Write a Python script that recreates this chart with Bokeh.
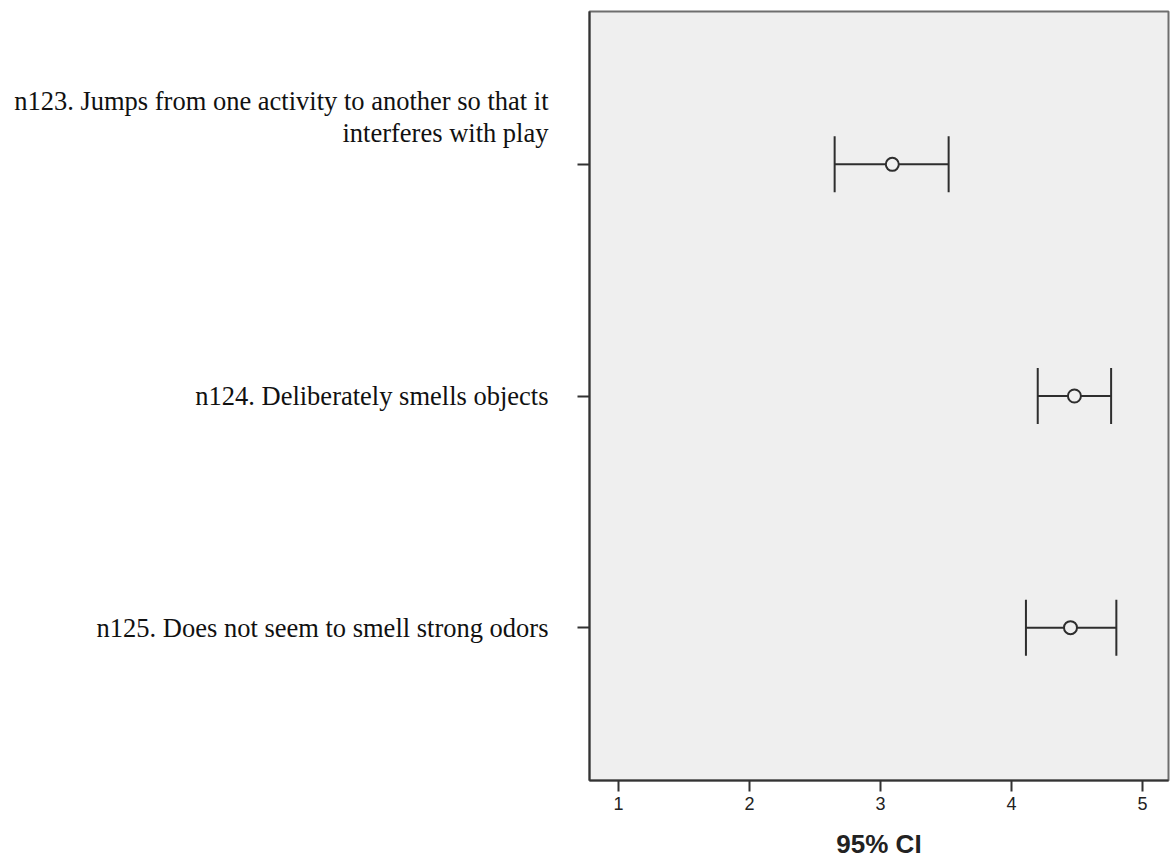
from bokeh.plotting import figure
from bokeh.models import ColumnDataSource, FactorRange, Range1d, Whisker, TeeHead, FixedTicker
from bokeh.embed import file_html
from bokeh.resources import INLINE

# ---- data ----
categories = [
    "n123. Jumps from one activity to another so that it\ninterferes with play\n\n\n",
    "n124. Deliberately smells objects",
    "n125. Does not seem to smell strong odors",
]
means = [3.09, 4.48, 4.45]
lower = [2.65, 4.20, 4.11]
upper = [3.52, 4.76, 4.80]
x_ticks = [1, 2, 3, 4, 5]
x_title = "95% CI"

src = ColumnDataSource(dict(cat=categories, mean=means, lower=lower, upper=upper))

p = figure(
    width=1172, height=861,
    y_range=FactorRange(factors=list(reversed(categories)), range_padding=0.16,
                        range_padding_units="absolute"),
    x_range=Range1d(0.779, 5.198),
    output_backend="svg", toolbar_location=None,
    min_border_left=589, min_border_right=4, min_border_top=11, min_border_bottom=79,
)
p.background_fill_color = "#efefef"
p.border_fill_color = "white"
p.outline_line_color = "#6e6e6e"
p.outline_line_width = 2
p.grid.visible = False

# error bars
wh = Whisker(source=src, base="cat", lower="lower", upper="upper", dimension="width",
             line_color="#2e2e2e", line_width=2,
             upper_head=TeeHead(size=56, line_color="#2e2e2e", line_width=2),
             lower_head=TeeHead(size=56, line_color="#2e2e2e", line_width=2))
p.add_layout(wh)
p.scatter(x="mean", y="cat", source=src, marker="circle", size=13,
          fill_color="#efefef", line_color="#2e2e2e", line_width=2)

# x axis
xa = p.xaxis[0]
xa.ticker = FixedTicker(ticks=x_ticks)
xa.minor_tick_line_color = None
xa.major_tick_out = 11
xa.major_tick_in = 0
xa.major_tick_line_color = "#333333"
xa.major_tick_line_width = 2
xa.axis_line_color = "#333333"
xa.axis_line_width = 2
xa.major_label_text_font = "Liberation Sans"
xa.major_label_text_font_size = "18px"
xa.major_label_text_color = "#222222"
xa.major_label_standoff = 5
xa.axis_label = x_title
xa.axis_label_text_font = "Liberation Sans"
xa.axis_label_text_font_style = "bold"
xa.axis_label_text_font_size = "26px"
xa.axis_label_text_color = "#222222"
xa.axis_label_standoff = 16

# y axis
ya = p.yaxis[0]
ya.major_tick_out = 12
ya.major_tick_in = 0
ya.major_tick_line_color = "#333333"
ya.major_tick_line_width = 2
ya.axis_line_color = "#333333"
ya.axis_line_width = 2
ya.major_label_text_font = "Liberation Serif"
ya.major_label_text_font_size = "26.5px"
ya.major_label_text_color = "#111111"
ya.major_label_standoff = 29
ya.major_label_text_line_height = 1.05

open("out.html", "w").write(file_html(p, INLINE))
